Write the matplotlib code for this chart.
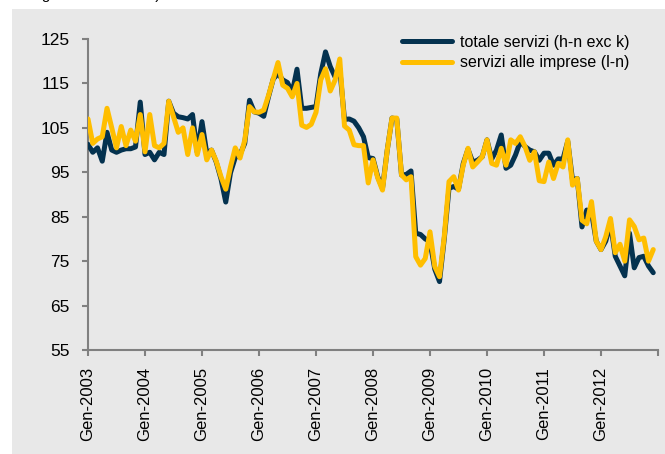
import matplotlib
matplotlib.use("Agg")
import matplotlib.pyplot as plt
import numpy as np

plt.rcParams['font.family'] = ['Liberation Sans', 'DejaVu Sans']

# ---- data (monthly, Gen-2003 .. Dic-2012) ----
totale_servizi = [
    101.3, 99.5, 100.5, 97.5, 104.0, 100.0, 99.5, 100.0, 100.3, 100.3, 100.7, 110.8,
    99.0, 99.5, 97.8, 99.5, 99.0, 111.0, 108.3, 107.5, 107.3, 107.0, 108.0, 99.5,
    106.4, 99.3, 100.0, 97.3, 93.5, 88.3, 94.9, 98.3, 99.0, 101.5, 111.2, 108.6,
    108.3, 107.6, 112.0, 116.0, 117.2, 115.8, 115.2, 113.0, 118.2, 109.4, 109.4, 109.6,
    109.8, 117.2, 122.1, 118.8, 116.5, 118.3, 106.9, 107.0, 106.5, 105.0, 103.0, 98.3,
    98.1, 94.0, 91.4, 100.0, 107.2, 107.0, 94.4, 94.5, 95.3, 81.3, 81.0, 80.0,
    79.4, 73.2, 70.4, 80.0, 91.4, 91.8, 91.2, 97.0, 100.2, 97.3, 97.7, 98.5,
    102.3, 98.0, 100.0, 103.4, 95.9, 96.6, 98.9, 101.9, 100.8, 100.0, 99.6, 97.7,
    99.3, 99.3, 96.6, 98.0, 98.0, 102.0, 93.3, 93.6, 82.7, 86.5, 86.0, 79.5,
    77.6, 79.5, 83.5, 76.1, 73.9, 71.7, 81.3, 73.5, 75.8, 76.1, 73.9, 72.4,
]
servizi_imprese = [
    107.0, 101.5, 102.5, 103.0, 109.4, 105.0, 100.5, 105.3, 101.0, 104.5, 102.0, 108.0,
    99.6, 108.0, 101.0, 100.5, 101.5, 111.0, 107.5, 104.0, 105.0, 99.0, 105.0, 99.0,
    103.5, 97.8, 100.0, 97.5, 94.0, 91.2, 96.2, 100.5, 98.2, 102.2, 109.8, 108.6,
    108.5, 109.0, 112.3, 116.0, 119.7, 114.6, 113.9, 112.0, 115.0, 105.6, 105.1, 105.8,
    108.5, 115.8, 118.3, 113.3, 115.7, 120.5, 105.4, 104.5, 101.2, 101.0, 101.0, 92.6,
    97.8, 93.7, 91.0, 100.0, 107.2, 107.2, 94.4, 93.3, 94.0, 76.0, 74.1, 75.6,
    81.6, 73.8, 71.5, 80.5, 92.9, 94.0, 91.0, 96.6, 100.4, 96.2, 97.3, 98.5,
    102.3, 97.0, 96.6, 100.4, 96.6, 102.3, 101.5, 103.0, 100.8, 97.7, 99.6, 93.1,
    92.9, 97.3, 93.6, 97.0, 96.2, 102.3, 92.1, 93.6, 84.2, 83.4, 88.4, 79.5,
    77.6, 80.5, 84.6, 76.9, 78.8, 75.0, 84.3, 82.8, 79.8, 80.2, 75.0, 77.6,
]
tick_labels = ["Gen-2003", "Gen-2004", "Gen-2005", "Gen-2006", "Gen-2007",
               "Gen-2008", "Gen-2009", "Gen-2010", "Gen-2011", "Gen-2012"]
series_names = ["totale servizi (h-n exc k)", "servizi alle imprese (l-n)"]
y_ticks = [55, 65, 75, 85, 95, 105, 115, 125]

W, H = 665, 454
fig = plt.figure(figsize=(W / 100, H / 100), dpi=100)
fig.patch.set_facecolor('white')

# gray panel as a background axes
bg = fig.add_axes([12 / W, 0, 1 - 12 / W, 1 - 9 / H], zorder=-10)
bg.set_facecolor('#e8e8e8')
bg.set_xticks([])
bg.set_yticks([])
for s in bg.spines.values():
    s.set_visible(False)

# heading, clipped by the top edge as in the reference (only descenders show)
fig.text(2 / W, 1 + 1 / H, "Indici grezzi 2005=100)", fontsize=11,
         ha='left', va='baseline', color='black')

ax = fig.add_axes([88 / W, (H - 350) / H, (658 - 88) / W, (350 - 39) / H], zorder=1)
ax.set_facecolor('none')

x = np.arange(len(totale_servizi))
ax.plot(x, totale_servizi, color='#04324F', lw=3.6, solid_joinstyle='round',
        solid_capstyle='round', label=series_names[0], zorder=3)
ax.plot(x, servizi_imprese, color='#FFBE00', lw=3.6, solid_joinstyle='round',
        solid_capstyle='round', label=series_names[1], zorder=4)

ax.set_xlim(0, 120)
ax.set_ylim(55, 125)
ax.set_yticks(y_ticks)
ax.set_yticklabels([str(v) for v in y_ticks])
ax.set_xticks(list(range(0, 121, 12)))
ax.set_xticklabels(tick_labels + [""], rotation=90, ha='center', va='top')

for s in ['top', 'right']:
    ax.spines[s].set_visible(False)
for s in ['left', 'bottom']:
    ax.spines[s].set_color('#808080')
    ax.spines[s].set_linewidth(1.5)
ax.tick_params(axis='both', colors='#808080', width=1.5, length=4,
               direction='out', labelcolor='black')
ax.tick_params(axis='y', pad=9, labelsize=12.5)
ax.tick_params(axis='x', pad=8, labelsize=12)

leg = fig.legend(loc='upper left', bbox_to_anchor=(402 / W, 1 - 35 / H),
                 frameon=False, fontsize=11.5, handlelength=3.1,
                 handletextpad=0.5, labelspacing=0.33, borderpad=0,
                 borderaxespad=0)

fig.savefig("out.png", dpi=100, facecolor='white')
